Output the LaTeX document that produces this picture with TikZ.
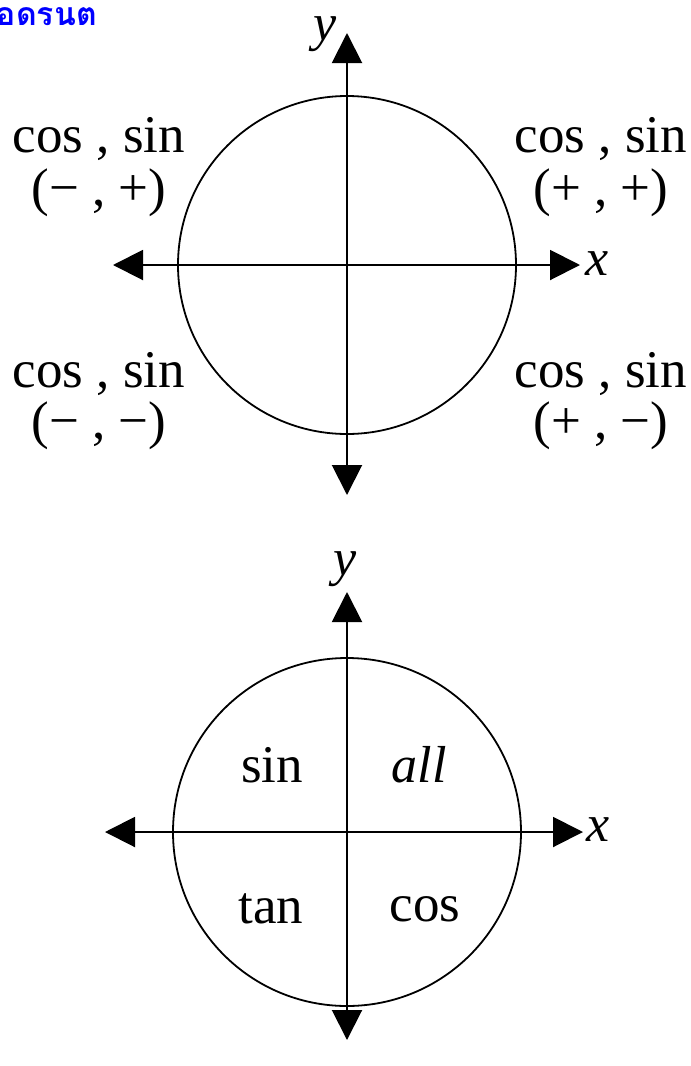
\documentclass[tikz,border=0pt]{standalone}
\usepackage{fontspec}
\setmainfont{Liberation Serif}
\newfontfamily\thaifont[Script=Thai]{Loma}
\usetikzlibrary{arrows.meta}
\begin{document}
\begin{tikzpicture}[x=1pt,y=-1pt,
  axis/.style={line width=2pt,-{Triangle[length=30pt,width=30pt]}},
  circ/.style={line width=1.8pt},
  lbl/.style={font=\fontsize{53}{60}\selectfont,inner sep=0pt},
  axlbl/.style={font=\fontsize{52}{60}\selectfont\itshape,inner sep=0pt},
  thai/.style={font=\fontsize{32}{36}\selectfont\thaifont\bfseries,text=blue,inner sep=0pt}]
\useasboundingbox (0,0) rectangle (691,1066);
\node[thai,anchor=east] (wm) at (97,17) {อดรนต};
% top diagram
\coordinate (o1) at (347,265);
\coordinate (t1) at (347,33);
\coordinate (b1) at (347,495);
\coordinate (l1) at (113,265);
\coordinate (r1) at (580,265);
\draw[circ] (o1) circle[radius=169];
\draw[axis] (o1) -- (t1);
\draw[axis] (o1) -- (b1);
\draw[axis] (o1) -- (l1);
\draw[axis] (o1) -- (r1);
\node[axlbl] (y1) at (325,34) {y};
\node[axlbl] (x1) at (597,264) {x};
\node[lbl] (q2a) at (99,139) {cos , sin};
\node[lbl] (q2b) at (99,193) {(− , +)};
\node[lbl] (q1a) at (601,139) {cos , sin};
\node[lbl] (q1b) at (601,193) {(+ , +)};
\node[lbl] (q3a) at (99,374) {cos , sin};
\node[lbl] (q3b) at (99,426) {(− , −)};
\node[lbl] (q4a) at (601,374) {cos , sin};
\node[lbl] (q4b) at (601,426) {(+ , −)};
% bottom diagram
\coordinate (o2) at (347,832);
\coordinate (t2) at (347,592);
\coordinate (b2) at (347,1040);
\coordinate (l2) at (105,832);
\coordinate (r2) at (583,832);
\draw[circ] (o2) circle[radius=174];
\draw[axis] (o2) -- (t2);
\draw[axis] (o2) -- (b2);
\draw[axis] (o2) -- (l2);
\draw[axis] (o2) -- (r2);
\node[axlbl] (y2) at (345,569) {y};
\node[axlbl] (x2) at (598,830) {x};
\node[lbl] (s2) at (272,765) {sin};
\node[axlbl] (s1) at (419,765) {all};
\node[lbl] (s3) at (271,909) {tan};
\node[lbl] (s4) at (425,909) {cos};
\end{tikzpicture}
\end{document}
